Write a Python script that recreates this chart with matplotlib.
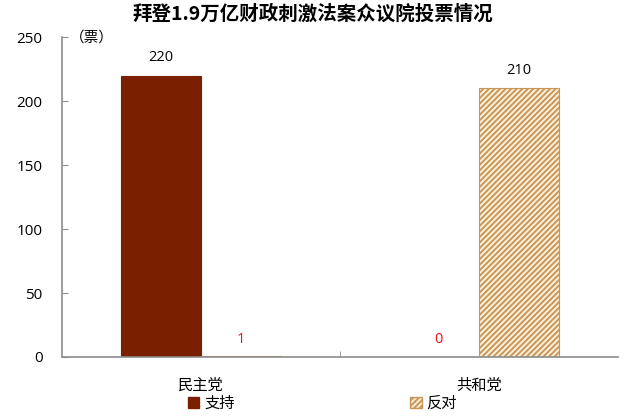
import numpy as np
import matplotlib.pyplot as plt
from matplotlib.patches import Patch

plt.rcParams['font.family'] = ['Noto Sans CJK SC', 'DejaVu Sans']
plt.rcParams['hatch.linewidth'] = 1.4

# dati
partiti = ['民主党', '共和党']
supporto = [220, 0]
contro = [1, 210]
serie = ['支持', '反对']

col_supp = '#7A2000'
col_hatch = '#C8965A'
col_fondo = '#FDF1D8'
col_rosso = '#F0101A'
col_asse = '#8C8C8C'

fig = plt.figure(figsize=(6.26, 4.18), dpi=100)
ax = fig.add_axes([0.099, 0.146, 0.888, 0.765])

x = np.arange(len(partiti))
w = 0.288
b1 = ax.bar(x - w / 2, supporto, w, color=col_supp, edgecolor=col_supp, linewidth=0.8)
b2 = ax.bar(x + w / 2, contro, w, color=col_fondo, edgecolor=col_hatch, hatch='//////', linewidth=0.8)

# etichette valori
for barre, valori in [(b1, supporto), (b2, contro)]:
    for rect, v in zip(barre, valori):
        c = 'black' if v > 5 else col_rosso
        y = v + 8 if v > 5 else 8
        ax.text(rect.get_x() + rect.get_width() / 2, y, str(v), ha='center', va='bottom',
                fontsize=10.5, color=c, family=['Open Sans', 'DejaVu Sans'])

ax.set_xlim(-0.5, 1.5)
ax.set_ylim(0, 250)
ax.set_yticks(range(0, 251, 50))
ax.set_xticks([0.5], minor=True)
ax.set_xticks(x)
ax.set_xticklabels(partiti, fontsize=11)
ax.tick_params(axis='x', which='major', length=0, pad=14)
ax.tick_params(axis='x', which='minor', direction='in', length=4, color=col_asse)
ax.tick_params(axis='y', direction='in', length=4, color=col_asse, labelsize=11, pad=14)
for lab in ax.get_yticklabels():
    lab.set_family(['Open Sans', 'DejaVu Sans'])

for s in ['top', 'right']:
    ax.spines[s].set_visible(False)
for s in ['left', 'bottom']:
    ax.spines[s].set_color(col_asse)
    ax.spines[s].set_linewidth(1.2)

ax.text(0.015, 1.0, '（票）', transform=ax.transAxes, fontsize=10.5, va='center', ha='left')

fig.suptitle('拜登1.9万亿财政刺激法案众议院投票情况', fontsize=14, fontweight='bold', y=0.99)

handles = [Patch(facecolor=col_supp, edgecolor=col_supp),
           Patch(facecolor=col_fondo, edgecolor=col_hatch, hatch='//////')]
fig.legend(handles, serie, loc='center', bbox_to_anchor=(0.515, 0.035), ncol=2, frameon=False,
           fontsize=11, handlelength=0.75, handleheight=0.75, handletextpad=0.3, columnspacing=11.5)

fig.savefig('out.png', dpi=100)
